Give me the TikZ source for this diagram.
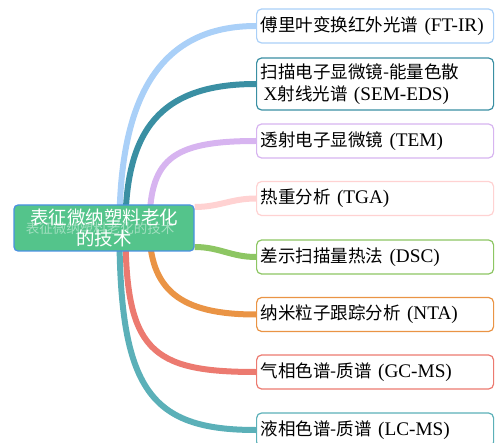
\documentclass[tikz,border=0pt]{standalone}
\usepackage{fontspec}
\setmainfont{Liberation Serif}[Scale=1.1]
\newfontfamily\cjk{Noto Sans CJK SC}
\usetikzlibrary{backgrounds}

\definecolor{rootgreen}{RGB}{84,196,139}
\definecolor{rootblue}{RGB}{74,144,226}
\definecolor{ftirc}{RGB}{170,208,248}
\definecolor{semc}{RGB}{58,143,163}
\definecolor{temc}{RGB}{215,180,240}
\definecolor{tgac}{RGB}{255,210,210}
\definecolor{dscc}{RGB}{141,198,99}
\definecolor{ntac}{RGB}{234,148,69}
\definecolor{gcmsc}{RGB}{236,122,112}
\definecolor{lcmsc}{RGB}{91,176,184}

\newcommand{\zh}[1]{{\cjk #1}}

\tikzset{
  rootbox/.style={draw=rootblue, fill=rootgreen, line width=1.2pt,
    rounded corners=4pt, minimum width=180pt, minimum height=46pt,
    inner sep=0pt, text=white, align=center,
    font=\cjk\fontsize{18.5}{20.5}\selectfont},
  leaf/.style={fill=white, anchor=west, line width=1.2pt,
    rounded corners=5pt, minimum height=34pt, text width=229pt,
    inner xsep=4pt, align=left, font=\fontsize{17.5}{22}\selectfont},
  branch/.style={line width=6pt}
}

\begin{document}
\begin{tikzpicture}[x=1pt,y=-1pt]
  \useasboundingbox (0,0) rectangle (497,443);

  \node[rootbox] (root) at (104,228) {表征微纳塑料老化\\的技术};
  \node[text=white, text opacity=.45, font=\cjk\fontsize{13.5}{14}\selectfont]
    (ghost) at (100,228) {表征微纳塑料老化的技术};

  \node[leaf, draw=ftirc] (ftir) at (256,26)
    {\zh{傅里叶变换红外光谱} (FT-IR)};
  \node[leaf, draw=semc, minimum height=52pt] (sem) at (256,84)
    {\zh{扫描电子显微镜-能量色散}\\\hspace*{3pt}X\zh{射线光谱} (SEM-EDS)};
  \node[leaf, draw=temc] (tem) at (256,141)
    {\zh{透射电子显微镜} (TEM)};
  \node[leaf, draw=tgac] (tga) at (256,198.5)
    {\zh{热重分析} (TGA)};
  \node[leaf, draw=dscc] (dsc) at (256,257)
    {\zh{差示扫描量热法} (DSC)};
  \node[leaf, draw=ntac] (nta) at (256,314.5)
    {\zh{纳米粒子跟踪分析} (NTA)};
  \node[leaf, draw=gcmsc] (gcms) at (256,372)
    {\zh{气相色谱-质谱} (GC-MS)};
  \node[leaf, draw=lcmsc] (lcms) at (256,430)
    {\zh{液相色谱-质谱} (LC-MS)};

  % branches start behind the root box
  \path ([xshift=106pt]root.west) coordinate (ro) {};
  \path ([xshift=112pt]root.west) coordinate (rm) {};
  \path ([xshift=136pt]root.west) coordinate (ri) {};
  \path ([yshift=21pt]root.east) coordinate (rne) {};
  \path ([yshift=-19pt]root.east) coordinate (rse) {};

  \begin{scope}[on background layer]
    \draw[branch, ftirc] (ro) .. controls +(0,-133) and +(-95,0) .. (ftir.west);
    \draw[branch, semc] (rm) .. controls +(0,-98) and +(-96,0) .. (sem.west);
    \draw[branch, temc] (ri) .. controls +(0,-68) and +(-86,0) .. (tem.west);
    \draw[branch, tgac] (rne) .. controls +(25,0) and +(-25,0) .. (tga.west);
    \draw[branch, dscc] (rse) .. controls +(25,0) and +(-25,0) .. (dsc.west);
    \draw[branch, ntac] (ri) .. controls +(0,62) and +(-76,0) .. (nta.west);
    \draw[branch, gcmsc] (rm) .. controls +(0,122) and +(-106,0) .. (gcms.west);
    \draw[branch, lcmsc] (ro) .. controls +(0,162) and +(-106,0) .. (lcms.west);
  \end{scope}
\end{tikzpicture}
\end{document}
